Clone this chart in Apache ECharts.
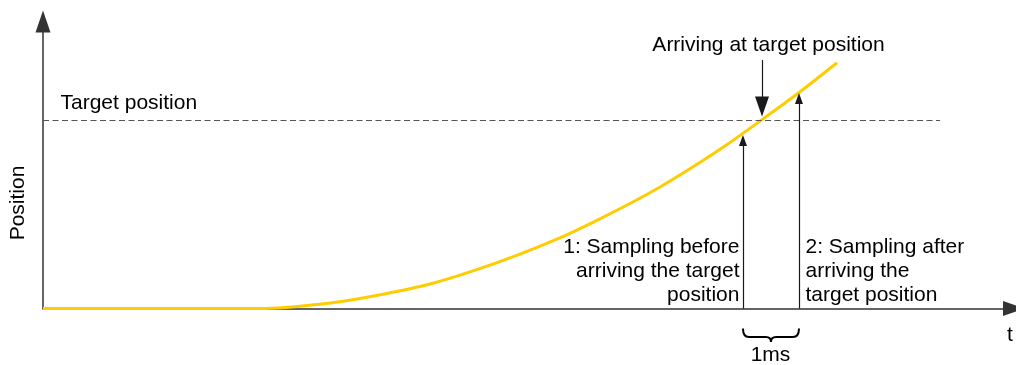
<!DOCTYPE html>
<html>
<head>
<meta charset="utf-8">
<script src="https://cdn.jsdelivr.net/npm/echarts@6/dist/echarts.min.js"></script>
<style>
html,body{margin:0;padding:0;background:#fff;}
#chart{width:1016px;height:365px;}
</style>
</head>
<body>
<div id="chart"></div>
<script>
// ---- data (time in ms, position with target = 100) ----
var curveTime = [0, 3.7, 4.2, 4.59, 5.36, 6.14, 6.91, 7.68, 8.46, 9.23, 9.82, 10.43, 11.02, 11.61, 12.21, 12.80, 13.52, 14.18];
var curvePos  = [0, 0, 0.3, 1.2, 3.9, 8.0, 13.0, 20.0, 28.2, 37.5, 45.8, 55.0, 64.6, 75.3, 87.0, 99.5, 115.2, 130.6];
var targetPos = 100;
var targetLineEnd = 16.02;
var sampleTimes = [12.5, 13.5];
var sampleTips = [92.2, 114.5];
var arrivalTime = 12.84;
var arrivalArrow = [132.0, 102.0]; // from, tip
var xMax = 17.34;
var yMax = 152.5;
var labels = {
  target: 'Target position',
  arrival: 'Arriving at target position',
  sample1: '1: Sampling before\narriving the target\nposition',
  sample2: '2: Sampling after\narriving the\ntarget position',
  interval: '1ms',
  xName: 't',
  yName: 'Position'
};

var FONT = "'Liberation Sans', Arial, sans-serif";
var grid = {left: 43, right: 2, top: 21.5, bottom: 56.5};
var plotH = 365 - grid.top - grid.bottom;
var pxPerUnit = plotH / yMax;
var smallH = 11, bigH = 20;

var chart = echarts.init(document.getElementById('chart'), null, {renderer: 'canvas'});

var textBase = {fontFamily: FONT, fontSize: 21, color: '#000'};

function txt(coord, text, pos, align, vAlign) {
  return {
    coord: coord,
    symbol: 'circle', symbolSize: 1,
    itemStyle: {color: 'rgba(0,0,0,0)'},
    label: Object.assign({show: true, formatter: text, position: pos, align: align,
      verticalAlign: vAlign, lineHeight: 24}, textBase)
  };
}

var arrowLine = {color: '#1a1a1a', width: 1.2, type: 'solid'};

var option = {
  animation: false,
  grid: grid,
  xAxis: {
    type: 'value', min: 0, max: xMax,
    axisLabel: {show: false}, axisTick: {show: false}, splitLine: {show: false},
    axisLine: {show: true, onZero: false, symbol: ['none', 'triangle'], symbolSize: [15, 22],
      lineStyle: {color: '#333', width: 1.5}},
    name: labels.xName, nameLocation: 'end', nameGap: -4,
    nameTextStyle: Object.assign({align: 'center', verticalAlign: 'top', padding: [16, 0, 0, 0]}, textBase)
  },
  yAxis: {
    type: 'value', min: 0, max: yMax,
    axisLabel: {show: false}, axisTick: {show: false}, splitLine: {show: false},
    axisLine: {show: true, onZero: false, symbol: ['none', 'triangle'], symbolSize: [15, 22],
      lineStyle: {color: '#333', width: 1.5}},
    name: labels.yName, nameLocation: 'middle', nameGap: 14,
    nameTextStyle: Object.assign({padding: [0, 76, 0, 0]}, textBase)
  },
  series: [
    {
      type: 'line',
      data: curveTime.map(function (t, i) { return [t, curvePos[i]]; }),
      smooth: 0.3,
      showSymbol: false, symbol: 'none',
      lineStyle: {color: '#FFCC00', width: 3},
      z: 3,
      markLine: {
        silent: true, symbol: 'none', label: {show: false},
        data: [
          [{coord: [0, targetPos], lineStyle: {color: '#555', width: 1.2, type: [6, 3.5]}},
           {coord: [targetLineEnd, targetPos]}],
          [{coord: [sampleTimes[0], 0], symbol: 'none', lineStyle: arrowLine},
           {coord: [sampleTimes[0], sampleTips[0] - (smallH / 2) / pxPerUnit], symbol: 'triangle', symbolSize: [8, smallH]}],
          [{coord: [sampleTimes[1], 0], symbol: 'none', lineStyle: arrowLine},
           {coord: [sampleTimes[1], sampleTips[1] - (smallH / 2) / pxPerUnit], symbol: 'triangle', symbolSize: [8, smallH]}],
          [{coord: [arrivalTime, arrivalArrow[0]], symbol: 'none', lineStyle: arrowLine},
           {coord: [arrivalTime, arrivalArrow[1] + (bigH / 2) / pxPerUnit], symbol: 'triangle', symbolSize: [14, bigH]}]
        ]
      },
      markPoint: {
        silent: true,
        data: [
          txt([0, targetPos], labels.target, [18, -17], 'left', 'middle'),
          txt([arrivalTime, arrivalArrow[0]], labels.arrival, [7, -14], 'center', 'middle'),
          txt([sampleTimes[0], 0], labels.sample1, [-3, -1], 'right', 'bottom'),
          txt([sampleTimes[1], 0], labels.sample2, [7, -1], 'left', 'bottom'),
          txt([(sampleTimes[0] + sampleTimes[1]) / 2, 0], labels.interval, [0, 47.5], 'center', 'middle')
        ]
      }
    },
    {
      type: 'custom',
      silent: true,
      data: [[sampleTimes[0], sampleTimes[1]]],
      renderItem: function (params, api) {
        var p1 = api.coord([api.value(0), 0]);
        var p2 = api.coord([api.value(1), 0]);
        var x1 = p1[0], x2 = p2[0], xm = (x1 + x2) / 2;
        var y0 = p1[1] + 20, yb = y0 + 8.5, tip = yb + 5;
        var st = {stroke: '#000', lineWidth: 2, fill: null};
        return {
          type: 'group',
          children: [
            {type: 'bezierCurve', shape: {x1: x1, y1: y0, cpx1: x1, cpy1: yb, x2: x1 + 6, y2: yb}, style: st},
            {type: 'line', shape: {x1: x1 + 6, y1: yb, x2: xm - 5, y2: yb}, style: st},
            {type: 'bezierCurve', shape: {x1: xm - 5, y1: yb, cpx1: xm, cpy1: yb, x2: xm, y2: tip}, style: st},
            {type: 'bezierCurve', shape: {x1: xm, y1: tip, cpx1: xm, cpy1: yb, x2: xm + 5, y2: yb}, style: st},
            {type: 'line', shape: {x1: xm + 5, y1: yb, x2: x2 - 6, y2: yb}, style: st},
            {type: 'bezierCurve', shape: {x1: x2 - 6, y1: yb, cpx1: x2, cpy1: yb, x2: x2, y2: y0}, style: st}
          ]
        };
      },
      clip: false
    }
  ]
};
chart.setOption(option);
</script>
</body>
</html>
